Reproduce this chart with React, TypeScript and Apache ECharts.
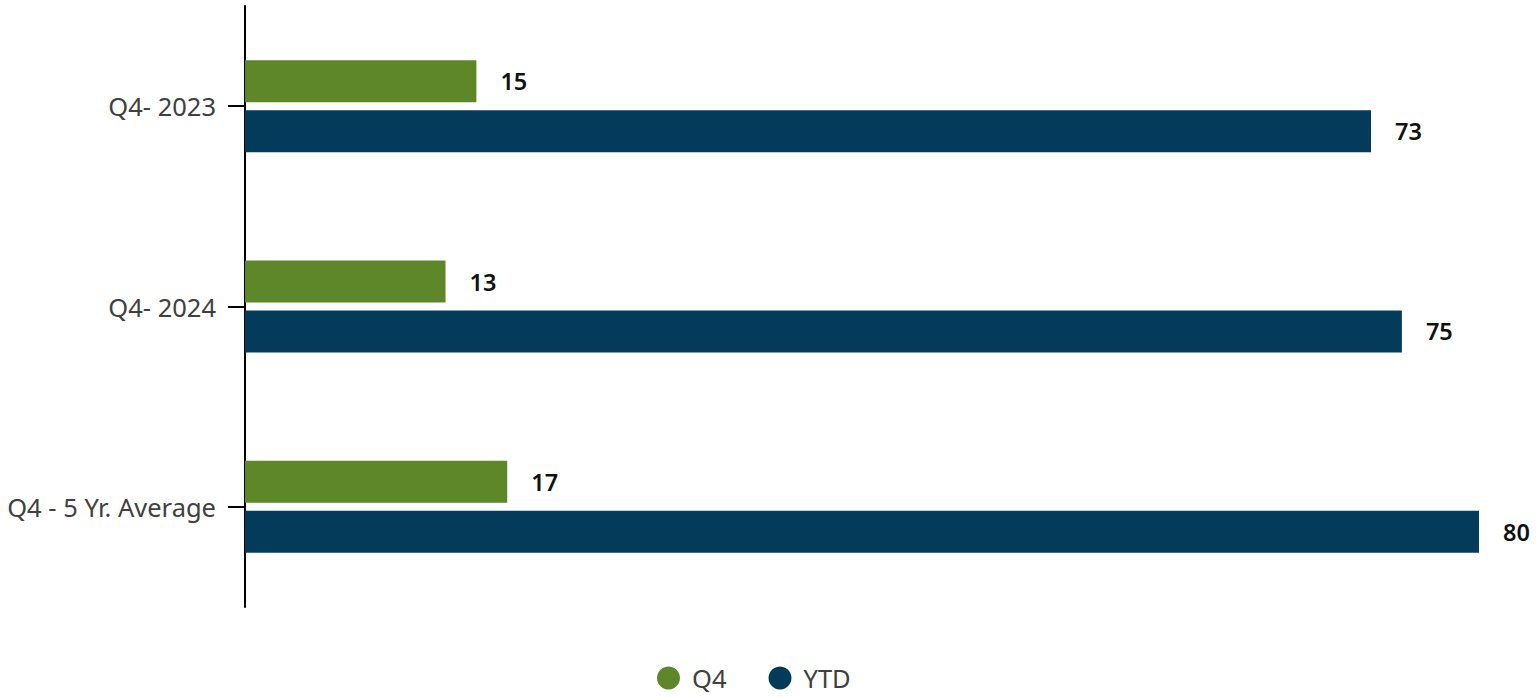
import React, { useEffect, useRef } from "react";
import * as echarts from "echarts";

const categories = ["Q4- 2023", "Q4- 2024", "Q4 - 5 Yr. Average"];
const q4Values = [15, 13, 17];
const ytdValues = [73, 75, 80];
const seriesNames = ["Q4", "YTD"];

export default function App() {
  const ref = useRef<HTMLDivElement>(null);
  useEffect(() => {
    if (!ref.current) return;
    const chart = echarts.init(ref.current, undefined, { renderer: "svg" });
    const font = "'Noto Sans', 'Open Sans', sans-serif";
    const label = {
      show: true,
      position: "right",
      distance: 24,
      fontSize: 23.5,
      fontWeight: 600,
      color: "#111111",
      fontFamily: font,
    };
    chart.setOption({
      animation: false,
      grid: { left: 245, right: 59, top: 6, bottom: 91, containLabel: false },
      legend: {
        data: seriesNames,
        left: 657,
        top: 665,
        padding: 0,
        icon: "circle",
        itemWidth: 23,
        itemHeight: 23,
        itemGap: 42,
        textStyle: {
          fontSize: 25.5,
          lineHeight: 24,
          color: "#404040",
          fontFamily: font,
          padding: [0, 0, 0, 7],
        },
      },
      xAxis: {
        type: "value",
        min: 0,
        max: 80,
        show: false,
        splitLine: { show: false },
      },
      yAxis: {
        type: "category",
        inverse: true,
        data: categories,
        axisLine: { show: true, lineStyle: { color: "#000000", width: 2 } },
        axisTick: { show: true, alignWithLabel: true, length: 17, lineStyle: { color: "#000000", width: 2 } },
        axisLabel: { margin: 29, fontSize: 25.5, color: "#404040", fontFamily: font },
      },
      series: [
        {
          name: seriesNames[0],
          type: "bar",
          data: q4Values,
          barWidth: 42,
          barGap: "19%",
          itemStyle: { color: "#5D8729" },
          label,
        },
        {
          name: seriesNames[1],
          type: "bar",
          data: ytdValues,
          barWidth: 42,
          barGap: "19%",
          itemStyle: { color: "#043B5A" },
          label,
        },
      ],
    });
    return () => chart.dispose();
  }, []);
  return (
    <div
      ref={ref}
      style={{ position: "absolute", left: 0, top: 0, width: 1538, height: 698, background: "#ffffff" }}
    />
  );
}
